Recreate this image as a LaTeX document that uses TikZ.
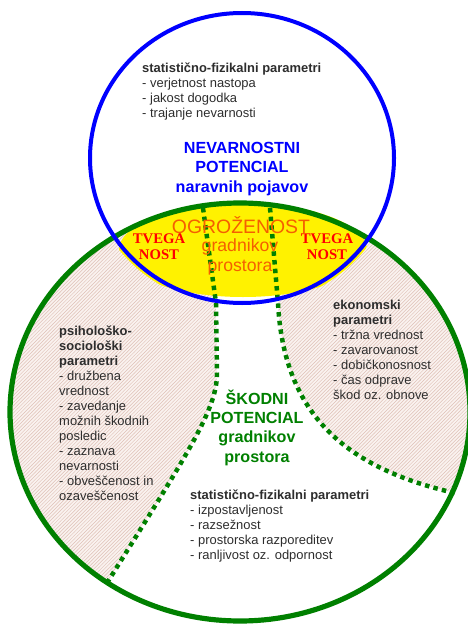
\documentclass[tikz,border=0pt]{standalone}
\usepackage{fontspec}
\setmainfont{Liberation Sans}
\newfontfamily\timesfont{Liberation Serif}
\usetikzlibrary{patterns}
\definecolor{potblue}{RGB}{0,0,255}
\definecolor{potgreen}{RGB}{0,128,0}
\definecolor{ogrorange}{RGB}{245,95,0}
\definecolor{hatchpink}{RGB}{222,192,182}
\definecolor{hatchbase}{RGB}{250,242,239}
\definecolor{txtgray}{RGB}{45,45,45}
\tikzset{
  param/.style={anchor=base west, align=left, inner sep=0pt, text=txtgray,
    font=\fontsize{11}{12.75}\selectfont},
  potblock/.style={anchor=base, align=center, inner sep=0pt,
    font=\bfseries\fontsize{13.7}{16.3}\selectfont},
  tvega/.style={anchor=base, align=center, inner sep=0pt, text=red,
    font=\timesfont\bfseries\fontsize{12.5}{13.6}\selectfont},
  mejna/.style={potgreen, line width=3.8pt, dash pattern=on 3.8pt off 3.6pt},
}
\begin{document}
\begin{tikzpicture}[x=0.85pt,y=-0.85pt]
    \useasboundingbox (0,0) rectangle (467,624);
    % srafura - skodni potencial
    \fill[hatchbase] (240,412) ellipse [x radius=230, y radius=209];
    \fill[pattern=north east lines, pattern color=hatchpink] (240,412) ellipse [x radius=230, y radius=209];
    % srednji pas brez srafure
    \begin{scope}
    \clip (240,412) ellipse [x radius=230, y radius=209];
    \fill[white] (202,200) -- (216,303) -- (217,375) .. controls (216,410) and (190,450) .. (107,583)
        -- (60,660) -- (490,660) -- (490,495) -- (455,493) .. controls (330,465) and (283,400) .. (278,303) -- (269,200) -- cycle;
    \end{scope}
    % ogrozenost
    \begin{scope}
    \clip (242,158) ellipse [x radius=156, y radius=149];
    \fill[yellow] (243,250) ellipse [x radius=124, y radius=47];
    \end{scope}
    \draw[potgreen, line width=4.4pt] (240,412) ellipse [x radius=230, y radius=209];
    \draw[mejna] (203,208) -- (216,303) -- (217,375) .. controls (216,410) and (190,450) .. (107,583);
    \draw[mejna] (270,208) -- (278,303) .. controls (283,400) and (330,465) .. (455,493);
    \draw[potblue, line width=3.4pt] (242,158) ellipse [x radius=152, y radius=145];
    % besedila (base = zadnja vrstica)
    \node[param] (statnev) at (142,118) {\textbf{statistično-fizikalni parametri}\\- verjetnost nastopa\\- jakost dogodka\\- trajanje nevarnosti};
    \node[potblock, text=potblue] (nevpot) at (242,192) {NEVARNOSTNI\\POTENCIAL\\naravnih pojavov};
    \node[anchor=base, inner sep=0pt, text=ogrorange, font=\fontsize{16.5}{18}\selectfont] (ogr) at (241,233) {OGROŽENOST};
    \node[anchor=base, align=center, inner sep=0pt, text=ogrorange, font=\fontsize{15}{16.2}\selectfont] (gradogr) at (240,271) {gradnikov\\prostora};
    \node[tvega] (tvegaL) at (159,259) {TVEGA\\NOST};
    \node[tvega] (tvegaR) at (327,259) {TVEGA\\NOST};
    \node[param] (psiho) at (59,500) {\textbf{psihološko-}\\\textbf{sociološki}\\\textbf{parametri}\\- družbena\\vrednost\\- zavedanje\\možnih škodnih\\posledic\\- zaznava\\nevarnosti\\- obveščenost in\\ozaveščenost};
    \node[param] (ekon) at (333,399) {\textbf{ekonomski}\\\textbf{parametri}\\- tržna vrednost\\- zavarovanost\\- dobičkonosnost\\- čas odprave\\škod oz. obnove};
    \node[potblock, text=potgreen] (skodpot) at (257,462) {ŠKODNI\\POTENCIAL\\gradnikov\\prostora};
    \node[param] (statskod) at (190,559) {\textbf{statistično-fizikalni parametri}\\- izpostavljenost\\- razsežnost\\- prostorska razporeditev\\- ranljivost oz. odpornost};
\end{tikzpicture}
\end{document}
